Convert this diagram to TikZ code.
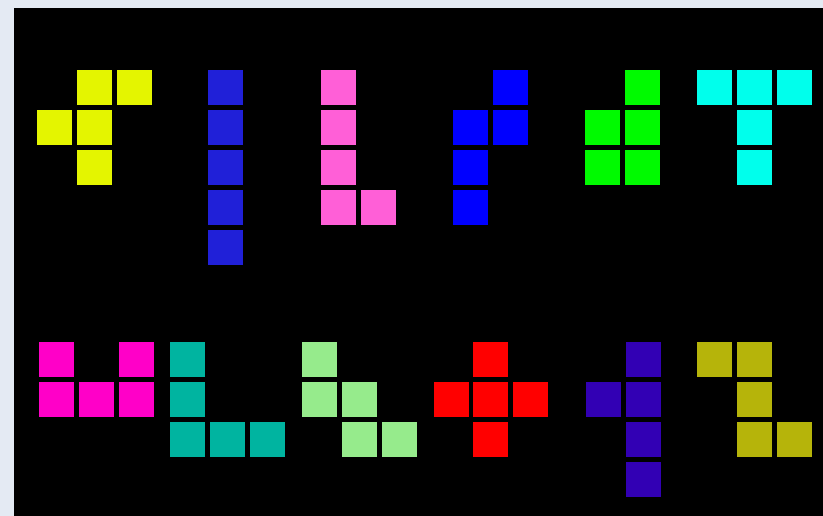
\documentclass[tikz,border=0pt]{standalone}
\definecolor{bgpale}{RGB}{228,234,243}
\definecolor{cYel}{RGB}{228,245,0}
\definecolor{cBlueI}{RGB}{32,32,216}
\definecolor{cPink}{RGB}{255,95,215}
\definecolor{cBlueP}{RGB}{0,0,255}
\definecolor{cGreen}{RGB}{0,250,0}
\definecolor{cCyan}{RGB}{0,255,236}
\definecolor{cMag}{RGB}{255,0,200}
\definecolor{cTeal}{RGB}{0,180,160}
\definecolor{cLGreen}{RGB}{150,235,140}
\definecolor{cRed}{RGB}{255,0,0}
\definecolor{cIndigo}{RGB}{50,0,180}
\definecolor{cOlive}{RGB}{182,180,10}
\newcommand\pcell[3]{\fill[#1] (#2,#3) rectangle ++(35,35);}
\begin{document}
\begin{tikzpicture}[x=1pt,y=-1pt]
\useasboundingbox (0,0) rectangle (823,516);
\fill[bgpale] (0,0) rectangle (823,516);
\fill[black] (14,8) rectangle (823,516);
% yellow F
\pcell{cYel}{77}{70}\pcell{cYel}{117}{70}
\pcell{cYel}{37}{110}\pcell{cYel}{77}{110}
\pcell{cYel}{77}{150}
% blue I
\foreach \y in {70,110,150,190,230}{\pcell{cBlueI}{208}{\y}}
% pink L
\foreach \y in {70,110,150,190}{\pcell{cPink}{321}{\y}}
\pcell{cPink}{361}{190}
% blue N
\pcell{cBlueP}{493}{70}
\pcell{cBlueP}{453}{110}\pcell{cBlueP}{493}{110}
\pcell{cBlueP}{453}{150}\pcell{cBlueP}{453}{190}
% green P
\pcell{cGreen}{625}{70}
\pcell{cGreen}{585}{110}\pcell{cGreen}{625}{110}
\pcell{cGreen}{585}{150}\pcell{cGreen}{625}{150}
% cyan T
\pcell{cCyan}{697}{70}\pcell{cCyan}{737}{70}\pcell{cCyan}{777}{70}
\pcell{cCyan}{737}{110}\pcell{cCyan}{737}{150}
% magenta U
\pcell{cMag}{39}{342}\pcell{cMag}{119}{342}
\pcell{cMag}{39}{382}\pcell{cMag}{79}{382}\pcell{cMag}{119}{382}
% teal V
\pcell{cTeal}{170}{342}\pcell{cTeal}{170}{382}
\pcell{cTeal}{170}{422}\pcell{cTeal}{210}{422}\pcell{cTeal}{250}{422}
% light green W
\pcell{cLGreen}{302}{342}
\pcell{cLGreen}{302}{382}\pcell{cLGreen}{342}{382}
\pcell{cLGreen}{342}{422}\pcell{cLGreen}{382}{422}
% red X
\pcell{cRed}{473}{342}
\pcell{cRed}{434}{382}\pcell{cRed}{473}{382}\pcell{cRed}{513}{382}
\pcell{cRed}{473}{422}
% indigo Y
\pcell{cIndigo}{626}{342}
\pcell{cIndigo}{586}{382}\pcell{cIndigo}{626}{382}
\pcell{cIndigo}{626}{422}\pcell{cIndigo}{626}{462}
% olive Z
\pcell{cOlive}{697}{342}\pcell{cOlive}{737}{342}
\pcell{cOlive}{737}{382}
\pcell{cOlive}{737}{422}\pcell{cOlive}{777}{422}
\end{tikzpicture}
\end{document}
